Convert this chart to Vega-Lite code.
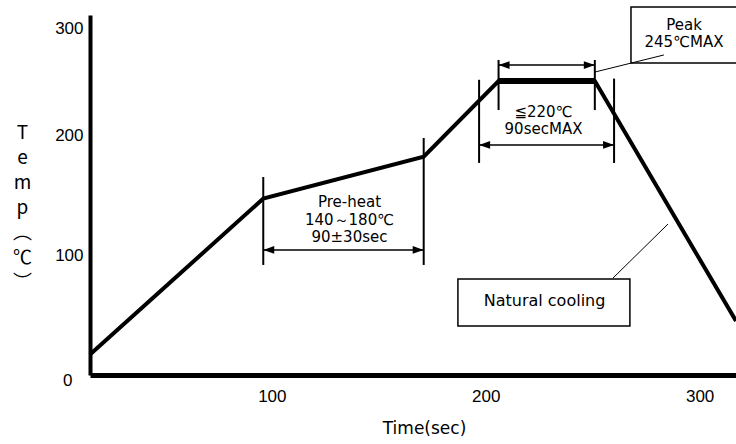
{
  "$schema": "https://vega.github.io/schema/vega-lite/v6.json",
  "autosize": {"type": "none"},
  "padding": {"left": 90, "top": 15, "right": 0, "bottom": 69},
  "width": 646,
  "height": 360,
  "background": "white",
  "config": {"view": {"stroke": null}},
  "datasets": {
    "profile": [
      {"t": 15, "temp": 17},
      {"t": 96, "temp": 147},
      {"t": 171, "temp": 182},
      {"t": 206, "temp": 245},
      {"t": 251, "temp": 245},
      {"t": 317, "temp": 45}
    ],
    "plateau": [{"t1": 206, "t2": 251, "temp": 245}],
    "vlines": [
      {"t": 96, "y1": 91.7, "y2": 165},
      {"t": 171, "y1": 91.7, "y2": 197.5},
      {"t": 206, "y1": 220.8, "y2": 262.5},
      {"t": 251, "y1": 220.8, "y2": 262.5},
      {"t": 196.9, "y1": 176.7, "y2": 246},
      {"t": 260, "y1": 176.7, "y2": 247}
    ],
    "arrows": [
      {"t1": 96, "t2": 171, "temp": 104.2},
      {"t1": 206, "t2": 251, "temp": 258.3},
      {"t1": 196.9, "t2": 260, "temp": 191.7}
    ],
    "leaders": [
      {"t1": 251.1, "y1": 252.5, "t2": 283.3, "y2": 266.7},
      {"t1": 259.5, "y1": 80.8, "t2": 285.2, "y2": 125.8}
    ],
    "boxes": [
      {"t1": 267.9, "t2": 322, "y1": 260, "y2": 306.7},
      {"t1": 187, "t2": 267.4, "y1": 40.8, "y2": 80}
    ],
    "preheat": [
      {"t": 136.3, "temp": 144, "label": ["Pre-heat", "140～180℃", "90±30sec"]}
    ],
    "window": [
      {"t": 227, "temp": 219, "label": ["≦220℃", "90secMAX"]}
    ],
    "peak": [
      {"t": 292.7, "temp": 291.7, "label": ["Peak", "245℃MAX"]}
    ],
    "cooling": [
      {"t": 227.5, "temp": 62, "label": "Natural cooling"}
    ]
  },
  "encoding": {
    "x": {
      "type": "quantitative",
      "scale": {"domain": [15, 317], "nice": false, "zero": false}
    },
    "y": {
      "type": "quantitative",
      "scale": {"domain": [0, 300], "nice": false}
    }
  },
  "layer": [
    {
      "data": {"name": "boxes"},
      "mark": {"type": "rect", "fill": "white", "stroke": "black", "strokeWidth": 1.5},
      "encoding": {
        "x": {"field": "t1", "type": "quantitative"},
        "x2": {"field": "t2"},
        "y": {"field": "y1", "type": "quantitative"},
        "y2": {"field": "y2"}
      }
    },
    {
      "data": {"name": "profile"},
      "mark": {"type": "line", "color": "black", "strokeWidth": 4, "strokeJoin": "miter"},
      "encoding": {
        "x": {"field": "t", "type": "quantitative",
          "axis": {
            "title": "Time(sec)",
            "values": [100, 200, 300],
            "grid": false, "ticks": false, "tickSize": 0,
            "domainColor": "black", "domainWidth": 5,
            "labelFont": "Liberation Sans", "labelFontSize": 17, "labelColor": "black",
            "labelPadding": 13,
            "titleFont": "DejaVu Sans", "titleFontSize": 17, "titleFontWeight": "normal", "titleColor": "black",
            "titleX": 334, "titleY": 53, "titleBaseline": "middle", "titleAlign": "center"
          }
        },
        "y": {"field": "temp", "type": "quantitative",
          "axis": {
            "title": ["T", "e", "m", "p", "︵", "℃", "︶"],
            "values": [0, 100, 200, 300],
            "grid": false, "ticks": false, "tickSize": 0,
            "domainColor": "black", "domainWidth": 4,
            "labelFont": "Liberation Sans", "labelFontSize": 17, "labelColor": "black",
            "labelPadding": {"condition": {"test": "datum.value === 0", "value": 18}, "value": 7},
            "labelOffset": {"condition": [{"test": "datum.value === 300", "value": 13}, {"test": "datum.value === 0", "value": 5}], "value": 0},
            "titleFont": "Noto Sans CJK JP", "titleFontSize": 19, "titleFontWeight": "normal", "titleColor": "black",
            "titleAngle": 0, "titleX": -68, "titleY": 108, "titleBaseline": "top", "titleAlign": "center",
            "titleLineHeight": 25
          }
        }
      }
    },
    {
      "data": {"name": "plateau"},
      "mark": {"type": "rule", "color": "black", "strokeWidth": 6},
      "encoding": {
        "x": {"field": "t1", "type": "quantitative"},
        "x2": {"field": "t2"},
        "y": {"field": "temp", "type": "quantitative"}
      }
    },
    {
      "data": {"name": "vlines"},
      "mark": {"type": "rule", "color": "black", "strokeWidth": 2},
      "encoding": {
        "x": {"field": "t", "type": "quantitative"},
        "y": {"field": "y1", "type": "quantitative"},
        "y2": {"field": "y2"}
      }
    },
    {
      "data": {"name": "arrows"},
      "mark": {"type": "rule", "color": "black", "strokeWidth": 1.5},
      "encoding": {
        "x": {"field": "t1", "type": "quantitative"},
        "x2": {"field": "t2"},
        "y": {"field": "temp", "type": "quantitative"}
      }
    },
    {
      "data": {"name": "arrows"},
      "mark": {"type": "point", "filled": true, "color": "black", "opacity": 1, "size": 121, "shape": "M0,0L2,-0.7L2,0.7Z"},
      "encoding": {
        "x": {"field": "t1", "type": "quantitative"},
        "y": {"field": "temp", "type": "quantitative"}
      }
    },
    {
      "data": {"name": "arrows"},
      "mark": {"type": "point", "filled": true, "color": "black", "opacity": 1, "size": 121, "shape": "M0,0L-2,-0.7L-2,0.7Z"},
      "encoding": {
        "x": {"field": "t2", "type": "quantitative"},
        "y": {"field": "temp", "type": "quantitative"}
      }
    },
    {
      "data": {"name": "leaders"},
      "mark": {"type": "rule", "color": "black", "strokeWidth": 1},
      "encoding": {
        "x": {"field": "t1", "type": "quantitative"},
        "x2": {"field": "t2"},
        "y": {"field": "y1", "type": "quantitative"},
        "y2": {"field": "y2"}
      }
    },
    {
      "data": {"name": "preheat"},
      "mark": {"type": "text", "font": "DejaVu Sans", "fontSize": 15, "color": "black", "align": "center", "baseline": "middle", "lineHeight": 17.5},
      "encoding": {
        "x": {"field": "t", "type": "quantitative"},
        "y": {"field": "temp", "type": "quantitative"},
        "text": {"field": "label"}
      }
    },
    {
      "data": {"name": "window"},
      "mark": {"type": "text", "font": "DejaVu Sans", "fontSize": 15, "color": "black", "align": "center", "baseline": "middle", "lineHeight": 16.5},
      "encoding": {
        "x": {"field": "t", "type": "quantitative"},
        "y": {"field": "temp", "type": "quantitative"},
        "text": {"field": "label"}
      }
    },
    {
      "data": {"name": "peak"},
      "mark": {"type": "text", "font": "DejaVu Sans", "fontSize": 15, "color": "black", "align": "center", "baseline": "middle", "lineHeight": 17},
      "encoding": {
        "x": {"field": "t", "type": "quantitative"},
        "y": {"field": "temp", "type": "quantitative"},
        "text": {"field": "label"}
      }
    },
    {
      "data": {"name": "cooling"},
      "mark": {"type": "text", "font": "DejaVu Sans", "fontSize": 16, "color": "black", "align": "center", "baseline": "middle"},
      "encoding": {
        "x": {"field": "t", "type": "quantitative"},
        "y": {"field": "temp", "type": "quantitative"},
        "text": {"field": "label"}
      }
    }
  ]
}
